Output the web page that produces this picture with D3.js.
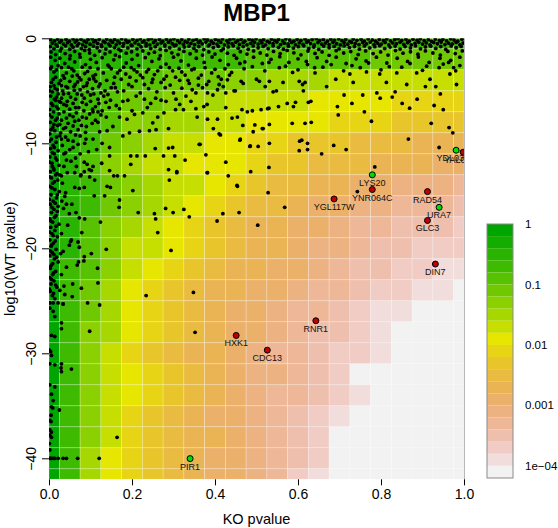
<!DOCTYPE html>
<html><head><meta charset="utf-8">
<script src="https://cdn.jsdelivr.net/npm/d3@7"></script>
<style>body{margin:0;background:#fff}svg{display:block;font-family:"Liberation Sans",Arial,Helvetica,sans-serif}</style>
</head><body><svg id="c" width="558" height="528"></svg>
<script>
// ---------------- data ----------------
const title = "MBP1";
const xLabel = "KO pvalue";
const yLabel = "log10(WT pvalue)";
const xTicks = [0, 0.2, 0.4, 0.6, 0.8, 1.0];
const xTickLabels = ["0.0", "0.2", "0.4", "0.6", "0.8", "1.0"];
const yTicks = [0, -10, -20, -30, -40];
const yTickLabels = ["0", "\u221210", "\u221220", "\u221230", "\u221240"];
const legendLog10 = [0, -1, -2, -3, -4];
const legendLabels = ["1", "0.1", "0.01", "0.001", "1e\u221204"];

// heat map: column centres (KO pvalue), row centres (log10 WT pvalue), colour level per cell (0 = 1 ... 20 = 1e-04)
const cellKO = [0,0.05,0.1,0.15,0.2,0.25,0.3,0.35,0.4,0.45,0.5,0.55,0.6,0.65,0.7,0.75,0.8,0.85,0.9,0.95,1.0];
const cellWT = [0,-2,-4,-6,-8,-10,-12,-14,-16,-18,-20,-22,-24,-26,-28,-30,-32,-34,-36,-38,-40,-42];
const cellLevel = [
 [0,1,1,1,2,2,2,2,2,2,2,2,2,2,2,3,3,3,3,3,3],
 [0,1,2,2,2,3,3,3,3,3,4,4,4,4,4,4,5,5,5,5,5],
 [0,2,3,3,4,4,5,5,5,6,6,7,7,7,8,8,8,8,8,8,8],
 [0,2,3,4,5,5,6,7,7,8,8,8,8,9,9,9,9,10,10,10,10],
 [0,2,3,4,6,6,7,7,8,8,9,9,9,9,10,10,10,11,11,11,11],
 [0,2,3,5,6,7,8,8,9,9,10,10,11,11,11,12,12,12,13,13,13],
 [0,2,4,6,7,8,8,9,9,9,10,11,11,12,12,12,13,13,13,14,14],
 [0,2,3,5,6,7,8,8,9,10,11,12,12,13,13,14,14,15,15,15,16],
 [0,2,3,5,6,7,8,9,10,11,12,12,13,14,14,15,15,16,16,16,17],
 [0,2,4,6,7,8,9,10,11,12,13,13,14,14,15,16,16,17,17,17,18],
 [0,2,4,6,8,8,9,10,11,12,13,13,14,15,15,16,17,17,18,18,18],
 [0,3,4,6,8,9,10,11,12,13,13,14,14,15,16,17,17,18,18,19,19],
 [0,3,5,7,9,10,11,12,13,13,14,14,15,16,16,17,18,18,19,19,20],
 [0,3,5,7,9,10,11,12,13,14,14,15,16,16,17,18,19,19,20,20,20],
 [0,3,6,7,9,10,11,12,13,14,14,15,16,17,17,18,19,20,20,20,20],
 [0,3,6,8,10,11,12,13,13,14,15,16,16,17,18,18,19,20,20,20,20],
 [0,3,6,8,9,10,11,12,13,14,15,15,16,17,18,20,20,20,20,20,20],
 [0,3,6,8,9,10,11,12,13,14,15,16,16,17,18,19,20,20,20,20,20],
 [0,3,6,8,10,11,12,13,14,14,15,16,17,18,19,20,20,20,20,20,20],
 [0,3,6,8,10,11,12,13,13,14,15,16,17,18,20,20,20,20,20,20,20],
 [0,3,7,9,10,11,12,13,14,14,15,16,17,18,20,20,20,20,20,20,20],
 [0,3,7,9,10,11,12,13,14,14,15,16,18,19,20,20,20,20,20,20,20]
];

// scatter of all genes: [KO pvalue, log10 WT pvalue]
const bandPts = [
[0.004,-0.12],[0.013,-0.25],[0.021,-0.08],[0.030,-0.2],[0.041,-0.1],[0.049,-0.28],[0.058,-0.06],[0.067,-0.18],[0.077,-0.1],[0.085,-0.27],[0.094,-0.12],[0.104,-0.05],[0.112,-0.22],[0.121,-0.1],[0.131,-0.3],[0.139,-0.07],[0.148,-0.19],[0.158,-0.11],[0.166,-0.26],[0.175,-0.05],[0.185,-0.16],[0.193,-0.29],[0.202,-0.09],[0.212,-0.2],[0.220,-0.06],[0.229,-0.24],[0.239,-0.13],[0.247,-0.04],[0.256,-0.21],[0.266,-0.1],[0.274,-0.28],[0.283,-0.08],[0.293,-0.17],[0.301,-0.05],[0.310,-0.23],[0.320,-0.12],[0.328,-0.3],[0.337,-0.07],[0.347,-0.19],[0.355,-0.1],[0.364,-0.26],[0.374,-0.05],[0.382,-0.15],[0.391,-0.28],[0.401,-0.09],[0.409,-0.2],[0.418,-0.06],[0.428,-0.24],[0.436,-0.12],[0.445,-0.04],[0.455,-0.21],[0.463,-0.1],[0.472,-0.27],[0.482,-0.08],[0.490,-0.18],[0.499,-0.05],[0.509,-0.23],[0.517,-0.13],[0.526,-0.29],[0.536,-0.07],[0.544,-0.19],[0.553,-0.1],[0.563,-0.25],[0.571,-0.05],[0.580,-0.16],[0.590,-0.28],[0.598,-0.09],[0.607,-0.21],[0.617,-0.06],[0.625,-0.24],[0.634,-0.12],[0.644,-0.04],[0.652,-0.2],[0.661,-0.11],[0.671,-0.27],[0.679,-0.08],[0.688,-0.17],[0.698,-0.05],[0.706,-0.23],[0.715,-0.12],[0.725,-0.29],[0.733,-0.07],[0.742,-0.19],[0.752,-0.1],[0.760,-0.26],[0.769,-0.05],[0.779,-0.15],[0.787,-0.28],[0.796,-0.09],[0.806,-0.2],[0.814,-0.06],[0.823,-0.24],[0.833,-0.12],[0.841,-0.04],[0.850,-0.21],[0.860,-0.1],[0.868,-0.27],[0.877,-0.08],[0.887,-0.18],[0.895,-0.05],[0.904,-0.23],[0.914,-0.13],[0.922,-0.29],[0.931,-0.07],[0.941,-0.19],[0.949,-0.1],[0.958,-0.25],[0.968,-0.05],[0.976,-0.16],[0.985,-0.28],[0.995,-0.09],
[0.008,-0.45],[0.017,-0.6],[0.026,-0.38],[0.035,-0.55],[0.045,-0.42],[0.054,-0.64],[0.063,-0.36],[0.072,-0.5],[0.081,-0.62],[0.090,-0.4],[0.099,-0.56],[0.108,-0.35],[0.117,-0.48],[0.126,-0.63],[0.135,-0.41],[0.144,-0.55],[0.153,-0.37],[0.162,-0.6],[0.171,-0.45],[0.180,-0.52],[0.189,-0.38],[0.198,-0.64],[0.207,-0.43],[0.216,-0.57],[0.225,-0.36],[0.234,-0.5],[0.243,-0.62],[0.252,-0.4],[0.261,-0.55],[0.270,-0.44],[0.279,-0.6],[0.288,-0.37],[0.297,-0.52],[0.306,-0.64],[0.315,-0.42],[0.324,-0.56],[0.333,-0.38],[0.342,-0.49],[0.351,-0.61],[0.360,-0.4],[0.369,-0.53],[0.378,-0.36],[0.387,-0.6],[0.396,-0.46],[0.405,-0.55],[0.414,-0.39],[0.423,-0.63],[0.432,-0.44],[0.441,-0.51],[0.450,-0.37],[0.459,-0.58],[0.468,-0.42],[0.477,-0.62],[0.486,-0.48],[0.495,-0.38],[0.504,-0.55],[0.513,-0.44],[0.522,-0.63],[0.531,-0.4],[0.540,-0.52],[0.549,-0.36],[0.558,-0.6],[0.567,-0.46],[0.576,-0.54],[0.585,-0.39],[0.594,-0.62],[0.603,-0.43],[0.612,-0.57],[0.621,-0.37],[0.630,-0.5],[0.639,-0.64],[0.648,-0.41],[0.657,-0.55],[0.666,-0.45],[0.675,-0.6],[0.684,-0.38],[0.693,-0.52],[0.702,-0.63],[0.711,-0.42],[0.720,-0.56],[0.729,-0.39],[0.738,-0.49],[0.747,-0.61],[0.756,-0.4],[0.765,-0.53],[0.774,-0.36],[0.783,-0.6],[0.792,-0.46],[0.801,-0.55],[0.810,-0.39],[0.819,-0.63],[0.828,-0.44],[0.837,-0.51],[0.846,-0.37],[0.855,-0.58],[0.864,-0.42],[0.873,-0.62],[0.882,-0.48],[0.891,-0.38],[0.900,-0.55],[0.909,-0.44],[0.918,-0.63],[0.927,-0.4],[0.936,-0.52],[0.945,-0.36],[0.954,-0.6],[0.963,-0.46],[0.972,-0.54],[0.981,-0.39],[0.990,-0.62],[0.998,-0.45],
[0.003,-0.8],[0.012,-1.0],[0.02,-0.75],[0.03,-0.95],[0.04,-0.72],[0.05,-1.05],[0.058,-0.85],[0.068,-0.7],[0.078,-0.98],[0.088,-0.8],[0.097,-1.08],[0.107,-0.74],[0.116,-0.9],[0.127,-0.78],[0.137,-1.02],[0.147,-0.72],[0.158,-0.88],[0.168,-1.05],[0.178,-0.76],[0.19,-0.92],[0.2,-0.7],[0.212,-1.0],[0.222,-0.82],[0.234,-0.73],[0.245,-0.97],[0.256,-0.8],[0.268,-1.06],[0.279,-0.74],[0.291,-0.9],[0.302,-0.71],[0.314,-1.03],[0.326,-0.84],[0.337,-0.75],[0.349,-0.95],[0.361,-0.78],[0.373,-1.07],[0.384,-0.72],[0.396,-0.88],[0.408,-0.76],[0.42,-1.0],[0.432,-0.82],[0.444,-0.71],[0.456,-0.94],[0.468,-0.79],[0.48,-1.05],[0.492,-0.73],[0.504,-0.9],[0.516,-0.77],[0.528,-0.99],[0.54,-0.72],[0.553,-0.86],[0.565,-1.04],[0.577,-0.75],[0.589,-0.93],[0.601,-0.8],[0.614,-0.71],[0.626,-0.97],[0.638,-0.83],[0.65,-1.06],[0.662,-0.74],[0.675,-0.9],[0.687,-0.77],[0.699,-1.01],[0.711,-0.72],[0.724,-0.88],[0.736,-0.78],[0.748,-1.04],[0.76,-0.73],[0.773,-0.92],[0.785,-0.8],[0.797,-0.7],[0.809,-0.98],[0.822,-0.84],[0.834,-0.74],[0.846,-1.03],[0.858,-0.79],[0.871,-0.92],[0.883,-0.72],[0.895,-1.0],[0.907,-0.82],[0.92,-0.75],[0.932,-0.96],[0.944,-0.78],[0.956,-1.06],[0.969,-0.73],[0.981,-0.9],[0.993,-0.77],
[0.005,-1.3],[0.016,-1.55],[0.027,-1.2],[0.039,-1.45],[0.051,-1.65],[0.062,-1.25],[0.074,-1.5],[0.086,-1.15],[0.098,-1.4],[0.11,-1.62],[0.122,-1.22],[0.135,-1.48],[0.147,-1.3],[0.16,-1.6],[0.173,-1.18],[0.186,-1.42],[0.199,-1.28],[0.213,-1.58],[0.226,-1.2],[0.24,-1.45],[0.254,-1.32],[0.268,-1.65],[0.282,-1.15],[0.296,-1.38],[0.311,-1.55],[0.325,-1.25],[0.34,-1.47],[0.355,-1.2],[0.37,-1.6],[0.385,-1.3],[0.4,-1.5],[0.415,-1.17],[0.43,-1.42],[0.446,-1.62],[0.461,-1.27],[0.477,-1.5],[0.493,-1.2],[0.509,-1.4],[0.525,-1.6],[0.541,-1.25],[0.557,-1.45],[0.574,-1.15],[0.59,-1.38],[0.607,-1.57],[0.624,-1.22],[0.641,-1.44],[0.658,-1.3],[0.675,-1.62],[0.692,-1.18],[0.71,-1.4],[0.727,-1.26],[0.745,-1.55],[0.763,-1.2],[0.781,-1.45],[0.799,-1.3],[0.817,-1.6],[0.835,-1.17],[0.853,-1.42],[0.871,-1.28],[0.889,-1.52],[0.907,-1.2],[0.925,-1.4],[0.943,-1.6],[0.961,-1.25],[0.979,-1.45],[0.996,-1.2],
[0.004,-1.8],[0.015,-2.1],[0.026,-1.9],[0.038,-2.4],[0.05,-1.95],[0.062,-2.25],[0.075,-1.8],[0.088,-2.5],[0.1,-2.0],[0.114,-2.3],[0.128,-1.85],[0.142,-2.55],[0.156,-2.05],[0.17,-1.75],[0.186,-2.35],[0.2,-2.0],[0.216,-2.6],[0.232,-1.85],[0.248,-2.2],[0.265,-1.95],[0.282,-2.45],[0.3,-1.8],[0.318,-2.15],[0.336,-2.55],[0.355,-1.9],[0.374,-2.3],[0.393,-1.78],[0.412,-2.1],[0.432,-2.5],[0.452,-1.9],[0.472,-2.25],[0.493,-1.8],[0.514,-2.4],[0.535,-2.0],[0.556,-1.75],[0.578,-2.3],[0.6,-1.95],[0.623,-2.5],[0.646,-1.85],[0.669,-2.2],[0.692,-1.8],[0.716,-2.4],[0.74,-1.95],[0.764,-2.15],[0.789,-1.8],[0.814,-2.35],[0.839,-1.9],[0.864,-2.2],[0.89,-1.78],[0.916,-2.3],[0.942,-1.9],[0.968,-2.1],[0.99,-1.8],
[0.46,-2.4],[0.49,-2.7],[0.53,-2.3],[0.57,-2.65],[0.62,-2.2],[0.64,-2.8],[0.68,-2.5],[0.73,-2.6],[0.77,-2.35],[0.82,-2.7],[0.87,-2.4],[0.91,-2.65],[0.95,-2.45],[0.975,-2.8]
];
const upperPts = [
[0.006,-2.7],[0.018,-3.0],[0.03,-2.8],[0.042,-3.3],[0.055,-2.9],[0.068,-3.5],[0.08,-2.75],[0.093,-3.15],[0.106,-3.6],[0.118,-2.9],[0.131,-3.3],[0.145,-2.7],[0.158,-3.7],[0.171,-3.05],[0.185,-3.4],[0.198,-2.8],[0.212,-3.2],[0.226,-3.75],[0.24,-2.95],[0.254,-3.45],[0.269,-2.75],[0.283,-3.6],[0.298,-3.1],[0.313,-2.85],[0.328,-3.5],[0.344,-3.0],[0.36,-3.8],[0.376,-2.8],[0.392,-3.3],[0.408,-3.65],[0.424,-2.9],[0.44,-3.25],
[0.01,-3.9],[0.024,-4.3],[0.037,-3.8],[0.05,-4.1],[0.063,-4.4],[0.077,-3.95],[0.092,-4.25],[0.108,-3.85],[0.123,-4.35],[0.139,-4.0],[0.156,-4.3],[0.174,-3.9],[0.192,-4.4],[0.21,-4.05],[0.23,-4.4],[0.25,-3.9],[0.27,-4.2],[0.292,-4.45],[0.315,-4.0],[0.338,-4.3],[0.36,-4.45],[0.385,-4.1],[0.41,-4.4],[0.43,-3.95],
[0.004,-2.9],[0.012,-3.2],[0.022,-2.6],[0.034,-3.55],[0.047,-2.75],[0.06,-3.1],[0.073,-3.75],[0.086,-3.35],[0.099,-2.8],[0.112,-3.45],[0.016,-3.7],[0.028,-4.0],[0.041,-4.6],[0.056,-3.6],[0.069,-4.15],[0.083,-4.6],[0.097,-3.9],[0.113,-4.1],
[0.15,-2.9],[0.165,-3.3],[0.18,-2.75],[0.195,-3.7],[0.205,-3.0],[0.22,-3.5],[0.235,-3.2],[0.248,-4.2],[0.262,-3.1],[0.277,-3.9],[0.29,-2.8],[0.305,-3.7],[0.32,-3.2],[0.335,-4.0],[0.35,-2.9],[0.367,-3.5],[0.38,-4.4],[0.4,-2.95],[0.415,-3.9],[0.435,-3.5],
[0.47,-2.9],[0.52,-3.1],[0.555,-2.8],[0.6,-3.0],[0.66,-2.75],[0.71,-3.1],[0.75,-2.8],[0.8,-3.0],[0.85,-2.75],[0.9,-3.05],[0.94,-2.8],[0.98,-3.1],
[0.669,-4.6],[0.603,-4.1],[0.611,-4.4],[0.617,-4.2],[0.564,-4.2],[0.531,-4.1],[0.5,-3.9],[0.468,-4.3],[0.449,-5.0],[0.548,-5.0],[0.641,-3.3],[0.691,-3.9],[0.725,-3.4],[0.733,-4.2],[0.765,-3.2],[0.797,-3.4],[0.813,-4.2],[0.838,-3.3],[0.862,-4.4],[0.886,-3.3],[0.918,-3.9],[0.966,-3.4],[0.982,-4.4],[0.963,-2.3],[0.99,-2.6],[0.587,-3.25]
];
const leftPts = [
[0.03,-4.5],[0.045,-4.7],[0.06,-4.6],[0.075,-4.9],[0.09,-4.5],[0.105,-4.8],[0.12,-4.6],[0.135,-5.0],[0.15,-4.7],[0.165,-5.1],[0.035,-5.3],[0.052,-5.6],[0.068,-5.3],[0.085,-5.7],[0.1,-5.4],[0.118,-5.8],[0.132,-5.5],[0.148,-5.9],[0.028,-6.1],[0.042,-6.4],[0.058,-6.2],[0.072,-6.6],[0.09,-6.3],[0.112,-6.5],[0.128,-6.9],[0.145,-6.6],[0.036,-7.0],[0.05,-7.3],[0.066,-7.1],[0.08,-7.5],[0.098,-7.2],[0.125,-7.3],[0.03,-7.8],[0.046,-8.1],[0.062,-7.9],[0.078,-8.3],[0.104,-8.1],[0.035,-8.6],[0.052,-8.9],[0.07,-8.7],[0.122,-8.9],[0.04,-9.4],[0.058,-9.8],[0.075,-9.3],[0.032,-10.2],[0.05,-10.6],[0.07,-10.1],[0.095,-10.8],[0.036,-11.0],[0.115,-10.6],
[0.006,-4.2],[0.02,-4.9],[0.033,-5.0],[0.047,-5.25],[0.061,-4.95],[0.079,-5.4],[0.093,-5.1],[0.108,-5.3],[0.125,-5.2],[0.142,-5.35],[0.016,-5.9],[0.03,-5.7],[0.044,-6.0],[0.064,-5.8],[0.08,-6.1],[0.1,-6.0],[0.12,-6.2],[0.137,-6.1],[0.022,-6.7],[0.036,-6.3],[0.05,-6.75],[0.064,-6.6],[0.084,-6.9],[0.105,-6.75],[0.118,-7.0],[0.042,-7.6],[0.058,-7.45],[0.072,-7.8],[0.09,-7.6],[0.112,-7.8],[0.026,-8.2],[0.04,-8.5],[0.058,-8.35],[0.088,-8.95],[0.028,-9.0],[0.046,-9.7],[0.064,-9.2],[0.086,-10.0],[0.03,-9.6],[0.04,-10.9],[0.058,-10.4],[0.075,-11.0],
[0.16,-4.7],[0.18,-5.0],[0.2,-4.6],[0.22,-5.2],[0.24,-4.8],[0.26,-5.1],[0.28,-4.7],[0.3,-5.2],[0.32,-4.75],[0.345,-4.9],[0.37,-4.7],[0.395,-5.4],[0.42,-4.6],[0.19,-5.9],[0.245,-6.2],[0.27,-5.9],[0.315,-6.3],[0.17,-6.7],[0.2,-6.9],[0.14,-8.8],
[0.256,-10.5],[0.288,-10.45],[0.298,-10.4],[0.276,-11.2],[0.303,-11.2],[0.328,-11.6],[0.362,-10.1],[0.378,-11.1],[0.410,-9.1],[0.197,-11.2],[0.212,-11.2],[0.232,-11.2],[0.146,-11.2],[0.127,-11.9],[0.097,-12.5],[0.077,-13.0],[0.106,-12.2],[0.085,-11.8],[0.066,-12.2],[0.064,-11.4],[0.053,-11.7],[0.042,-11.6],[0.026,-13.0],[0.036,-12.2],[0.165,-13.1],[0.182,-13.1],[0.288,-12.5],[0.308,-12.7],[0.382,-12.8],[0.426,-11.8],[0.432,-13.1],[0.396,-8.6],[0.357,-7.5],[0.354,-6.7],[0.373,-6.5],[0.381,-6.3],[0.426,-6.6],[0.441,-7.6],[0.406,-7.7],[0.382,-7.7],[0.342,-6.0],[0.324,-6.8],[0.305,-6.8],[0.288,-8.6],[0.277,-7.1],[0.262,-7.5],[0.250,-8.05],[0.237,-6.6],[0.226,-7.1],[0.206,-7.25],[0.188,-7.7],[0.170,-7.5],[0.154,-8.4],[0.138,-7.5],[0.118,-8.0],[0.106,-7.0],[0.090,-8.4],[0.089,-9.6],[0.106,-9.6],[0.128,-10.0],[0.146,-10.4],[0.178,-9.3],[0.194,-9.0],[0.218,-8.85],[0.242,-8.8],[0.258,-8.7],[0.162,-6.4],[0.178,-6.0],[0.210,-5.5],[0.230,-5.8],[0.257,-5.7],[0.282,-6.0],[0.306,-5.8],[0.330,-5.5],[0.354,-5.2],[0.382,-5.2],[0.406,-4.9],[0.426,-5.2],[0.446,-5.0],[0.197,-12.0],[0.102,-12.6],[0.092,-12.0]
];
const zeroColPts = [
[0.003,-4.6],[0.015,-4.8],[0.008,-5.1],[0.022,-5.3],[0.004,-5.5],[0.013,-5.8],[0.025,-6.0],[0.006,-6.2],[0.018,-6.5],[0.002,-6.8],[0.011,-7.0],[0.024,-7.2],[0.007,-7.5],[0.016,-7.8],[0.003,-8.0],[0.021,-8.3],[0.009,-8.5],[0.014,-8.8],[0.002,-9.1],[0.026,-9.3],[0.006,-9.6],[0.017,-9.9],[0.01,-10.2],[0.004,-10.5],[0.022,-10.7],[0.013,-11.0],[0.002,-11.3],[0.019,-11.6],[0.007,-11.9],[0.024,-12.1],[0.011,-12.4],[0.003,-12.7],[0.016,-13.0],[0.006,-13.3],[0.021,-13.5],[0.009,-13.8],[0.002,-14.1],[0.014,-14.4],[0.025,-14.6],[0.005,-14.9],[0.018,-15.2],[0.01,-15.5],[0.003,-15.8],[0.022,-16.0],[0.012,-16.3],[0.006,-16.6],[0.017,-16.9],[0.002,-17.2],[0.009,-17.5],[0.024,-17.7],[0.004,-18.0],[0.014,-18.3],[0.007,-18.6],[0.02,-18.9],[0.002,-19.2],[0.011,-19.5],[0.005,-19.8],[0.017,-20.1],[0.008,-20.4],[0.002,-20.7],[0.013,-21.0],[0.022,-21.3],[0.006,-21.6],[0.003,-21.9],[0.016,-22.2],[0.009,-22.5],[0.002,-22.8],[0.012,-23.1],[0.005,-23.4],[0.019,-23.7],[0.003,-24.1],[0.008,-24.5],[0.014,-24.8],
[0.032,-13.8],[0.04,-14.7],[0.035,-16.2],[0.045,-17.8],[0.03,-18.6],[0.042,-21.8],[0.03,-22.5],[0.038,-24.4],
[0.012,-12.55],[0.019,-12.9],[0.001,-13.2],[0.013,-13.65],[0.007,-14.25],[0.02,-14.9],[0.001,-15.35],[0.015,-15.7],[0.007,-16.1],[0.02,-16.5],[0.013,-17.05],[0.004,-17.4],[0.017,-17.9],[0.001,-18.45],[0.01,-18.8],[0.015,-19.3],[0.007,-19.65],[0.003,-20.25],[0.012,-20.6],[0.018,-20.85],[0.009,-21.45],[0.001,-21.8],[0.011,-22.35],[0.006,-22.95],[0.016,-23.5],[0.001,-23.9],[0.011,-24.3],
[0.012,-4.5],[0.001,-5.0],[0.018,-5.6],[0.009,-6.4],[0.001,-7.3],[0.02,-7.6],[0.012,-8.2],[0.005,-8.7],[0.018,-9.4],[0.001,-9.8],[0.013,-10.4],[0.008,-10.9],[0.016,-11.4],[0.001,-11.8],[0.008,-12.2],
[0.002,-25.2],[0.010,-25.2],[0.022,-25.2],[0.034,-25.3],[0.002,-25.7],[0.010,-26.0],[0.014,-26.5],[0.030,-27.1],[0.030,-27.65],[0.006,-28.3],[0.014,-28.4],[0.001,-29.7],[0.004,-29.85],[0.006,-30.2],[0.002,-31.0],[0.014,-31.1],[0.030,-31.0],[0.029,-31.4],[0.030,-31.75],[0.054,-31.5],[0.002,-33.0],[0.014,-33.2],[0.006,-33.9],[0.010,-34.5],[0.006,-35.1],[0.009,-35.2],[0.025,-35.4],[0.005,-35.9],[0.002,-36.4],[0.005,-36.5],[0.002,-37.3],[0.006,-37.5],[0.002,-37.8],[0.006,-38.0],[0.001,-38.6],[0.002,-39.2],
[0.001,-40],[0.004,-40],[0.006,-40],[0.010,-40],[0.014,-40],[0.022,-40],[0.034,-40],[0.042,-40],[0.069,-40],[0.121,-40]
];
const sparsePts = [
[0.093,-25.2],[0.122,-25.4],[0.098,-27.9],[0.352,-28.0],[0.164,-38.0],
[0.030,-13.1],[0.044,-12.8],[0.062,-12.8],[0.076,-13.1],[0.098,-13.2],[0.085,-12.7],[0.110,-13.5],[0.146,-12.6],[0.156,-13.1],[0.202,-14.5],[0.308,-12.8],[0.290,-13.5],[0.381,-12.8],[0.453,-14.0],[0.458,-16.6],[0.062,-14.2],[0.073,-14.3],[0.085,-14.2],[0.109,-15.0],[0.134,-15.0],[0.140,-14.1],[0.148,-14.2],[0.170,-15.4],[0.169,-16.1],[0.215,-16.6],[0.254,-16.7],[0.257,-17.2],[0.281,-16.2],[0.299,-16.6],[0.325,-16.3],[0.338,-17.0],[0.405,-17.4],[0.419,-16.7],[0.049,-16.7],[0.086,-17.2],[0.124,-17.5],[0.079,-18.5],[0.073,-17.1],[0.055,-15.8],[0.065,-16.6],[0.042,-15.8],[0.038,-15.05],[0.031,-15.5],[0.262,-18.5],[0.138,-20.1],[0.294,-20.2],[0.028,-20.5],[0.034,-20.3],[0.054,-19.2],[0.052,-19.35],[0.049,-19.7],[0.070,-19.4],[0.073,-19.9],[0.085,-20.8],[0.084,-21.2],[0.071,-21.3],[0.068,-21.6],[0.102,-20.5],[0.117,-21.9],[0.118,-23.3],[0.057,-23.4],[0.036,-23.6],[0.026,-24.0],[0.078,-23.8],[0.056,-24.6],[0.034,-25.3],[0.234,-24.5],[0.348,-24.2],
[0.528,-14.7],[0.568,-16.1],[0.503,-17.8],[0.743,-14.6],
[0.492,-8.9],[0.461,-9.6],[0.485,-10.25],[0.531,-10.0],[0.604,-9.8],[0.609,-9.7],[0.623,-10.0],[0.603,-10.7],[0.623,-10.6],[0.657,-11.0],[0.686,-10.2],[0.716,-10.6],[0.866,-9.6],[0.973,-9.0],[0.94,-10.4],[0.785,-12.25],[0.486,-12.7],[0.53,-12.3],[0.454,-14.1],
[0.463,-4.1],[0.507,-4.1],[0.521,-4.6],[0.540,-5.1],[0.465,-6.8],[0.454,-7.5],[0.478,-7.0],[0.49,-6.9],[0.511,-6.8],[0.53,-6.65],[0.516,-8.6],[0.467,-8.3],[0.531,-8.2],[0.589,-6.5],[0.594,-6.1],[0.625,-6.1],[0.631,-6.0],[0.574,-6.2],[0.586,-8.1],[0.617,-8.1],[0.632,-8.0],[0.695,-6.5],[0.697,-7.3],[0.73,-6.2],[0.76,-7.0],[0.777,-7.9],[0.711,-5.4],[0.756,-5.4],[0.79,-5.2],[0.798,-5.7],[0.827,-5.6],[0.834,-5.1],[0.851,-6.2],[0.869,-6.65],[0.887,-5.8],[0.907,-4.6],[0.932,-4.6],[0.943,-5.3],[0.95,-6.8],[0.921,-8.1],[0.964,-8.5],
[0.613,-5.0],[0.527,-6.7],[0.553,-6.5],[0.928,-6.4],[0.496,-8.25],[0.514,-8.6],[0.413,-9.2],[0.46,-9.7],[0.484,-10.3],[0.504,-10.3],[0.364,-10.1]
];
// highlighted genes
const geneName = ["YDL039C","YAL063C","LYS20","YNR064C","YGL117W","RAD54","URA7","GLC3","DIN7","RNR1","HXK1","CDC13","PIR1"];
const geneKO   = [0.981, 0.998, 0.779, 0.779, 0.687, 0.912, 0.940, 0.912, 0.931, 0.643, 0.451, 0.526, 0.340];
const geneWT   = [-10.66, -10.85, -13.0, -14.4, -15.3, -14.6, -16.1, -17.35, -21.5, -26.9, -28.3, -29.7, -40.03];
const geneFill = ["#00dd00","#c00000","#00dd00","#c00000","#c00000","#c00000","#00dd00","#c00000","#c00000","#c00000","#c00000","#c00000","#00dd00"];

// ---------------- palette (R terrain.colors) ----------------
function hsv(h, s, v) {
  const hh = (h * 6) % 6, i = Math.floor(hh), f = hh - i;
  const p = v * (1 - s), q = v * (1 - f * s), t = v * (1 - (1 - f) * s);
  const m = [[v,t,p],[q,v,p],[p,v,t],[p,q,v],[t,p,v],[v,p,q]][i % 6];
  return d3.rgb(Math.round(m[0]*255), Math.round(m[1]*255), Math.round(m[2]*255)).formatHex();
}
function terrainColors(n) {
  const k = Math.floor(n / 2), out = [];
  for (let i = 0; i < k; i++) { const f = k > 1 ? i / (k - 1) : 0; out.push(hsv(4/12 - 2/12 * f, 1, 0.65 + 0.25 * f)); }
  const m = n - k + 1;
  for (let j = 1; j < m; j++) { const f = j / (m - 1); out.push(hsv(2/12 * (1 - f), 1 - f, 0.9 + 0.05 * f)); }
  return out;
}
const palette = terrainColors(21);

// ---------------- drawing ----------------
const svg = d3.select("#c");
const X0 = 49, X1 = 464, Y0 = 38.3, Y1 = 479.3;
const x = d3.scaleLinear().domain([0, 1]).range([X0, X1]);
const y = d3.scaleLinear().domain([0, -42]).range([Y0, Y1]);
const clamp = (v, a, b) => Math.max(a, Math.min(b, v));

svg.append("defs").append("clipPath").attr("id", "plotclip")
  .append("rect").attr("x", X0).attr("y", Y0).attr("width", X1 - X0).attr("height", Y1 - Y0);

const plot = svg.append("g").attr("clip-path", "url(#plotclip)");

// heat cells
const cells = [];
cellWT.forEach((wt, r) => cellKO.forEach((ko, c) => cells.push({ko, wt, lev: cellLevel[r][c]})));
plot.append("g").selectAll("rect").data(cells).join("rect")
  .attr("x", d => x(clamp(d.ko - 0.025, 0, 1)))
  .attr("width", d => x(clamp(d.ko + 0.025, 0, 1)) - x(clamp(d.ko - 0.025, 0, 1)))
  .attr("y", d => y(clamp(d.wt + 1, -42, 0)))
  .attr("height", d => y(clamp(d.wt - 1, -42, 0)) - y(clamp(d.wt + 1, -42, 0)))
  .attr("fill", d => palette[d.lev])
  .attr("stroke", "rgba(255,255,255,0.28)").attr("stroke-width", 0.8);

// all genes
const allPts = bandPts.concat(upperPts, leftPts, zeroColPts, sparsePts);
plot.append("g").selectAll("circle").data(allPts).join("circle")
  .attr("cx", d => x(d[0])).attr("cy", d => y(d[1])).attr("r", 1.9).attr("fill", "#000");

// highlighted genes
const genes = geneName.map((n, i) => ({n, ko: geneKO[i], wt: geneWT[i], fill: geneFill[i]}));
plot.append("g").selectAll("circle").data(genes).join("circle")
  .attr("cx", d => x(d.ko)).attr("cy", d => y(d.wt)).attr("r", 3)
  .attr("fill", d => d.fill).attr("stroke", "#000").attr("stroke-width", 1);
plot.append("g").selectAll("text").data(genes).join("text")
  .attr("x", d => x(d.ko)).attr("y", d => y(d.wt) + 11)
  .attr("text-anchor", "middle").attr("font-size", 9).attr("fill", "#111")
  .text(d => d.n);

// right edge line
svg.append("line").attr("x1", X1 + 0.5).attr("x2", X1 + 0.5).attr("y1", Y0).attr("y2", Y1)
  .attr("stroke", "#b8b8b8").attr("stroke-width", 1);

// x axis
const gx = svg.append("g").attr("transform", `translate(0,${Y1})`)
  .call(d3.axisBottom(x).tickValues(xTicks).tickFormat((d, i) => xTickLabels[i]).tickSize(6).tickSizeOuter(0));
gx.select(".domain").remove();
gx.selectAll("text").attr("font-size", 14).attr("font-family", "Liberation Sans, Arial, sans-serif").attr("fill", "#000").attr("y", 10);

// y axis
const gy = svg.append("g").attr("transform", `translate(${X0},0)`)
  .call(d3.axisLeft(y).tickValues(yTicks).tickFormat((d, i) => yTickLabels[i]).tickSize(7).tickSizeOuter(0));
gy.select(".domain").remove();
gy.selectAll("text").attr("font-size", 14).attr("font-family", "Liberation Sans, Arial, sans-serif").attr("fill", "#000")
  .attr("x", null).attr("dy", null).attr("text-anchor", "middle")
  .attr("transform", "translate(-13,0) rotate(-90)");

// titles
const cx = (X0 + X1) / 2;
svg.append("text").attr("x", cx).attr("y", 21).attr("text-anchor", "middle")
  .attr("font-size", 24).attr("font-weight", "bold").text(title);
svg.append("text").attr("x", cx).attr("y", 524).attr("text-anchor", "middle")
  .attr("font-size", 14.5).text(xLabel);
svg.append("text").attr("transform", `translate(15,${(Y0 + Y1) / 2}) rotate(-90)`).attr("text-anchor", "middle")
  .attr("font-size", 14.5).text(yLabel);

// legend
const ly = d3.scaleLinear().domain([0, -4.2]).range([224, 478]);
const legendBands = d3.range(21).map(i => ({lo: -0.2 * i, hi: -0.2 * (i + 1), col: palette[i]}));
svg.append("g").selectAll("rect").data(legendBands).join("rect")
  .attr("x", 487).attr("width", 26)
  .attr("y", d => ly(d.lo)).attr("height", d => ly(d.hi) - ly(d.lo))
  .attr("fill", d => d.col);
svg.append("rect").attr("x", 487).attr("y", 224).attr("width", 26).attr("height", 254)
  .attr("fill", "none").attr("stroke", "#8a8a8a").attr("stroke-width", 1);
svg.append("g").selectAll("text").data(legendLog10).join("text")
  .attr("x", 525).attr("y", d => ly(d)).attr("dy", "0.35em")
  .attr("font-size", 11.5).text((d, i) => legendLabels[i]);
</script></body></html>
